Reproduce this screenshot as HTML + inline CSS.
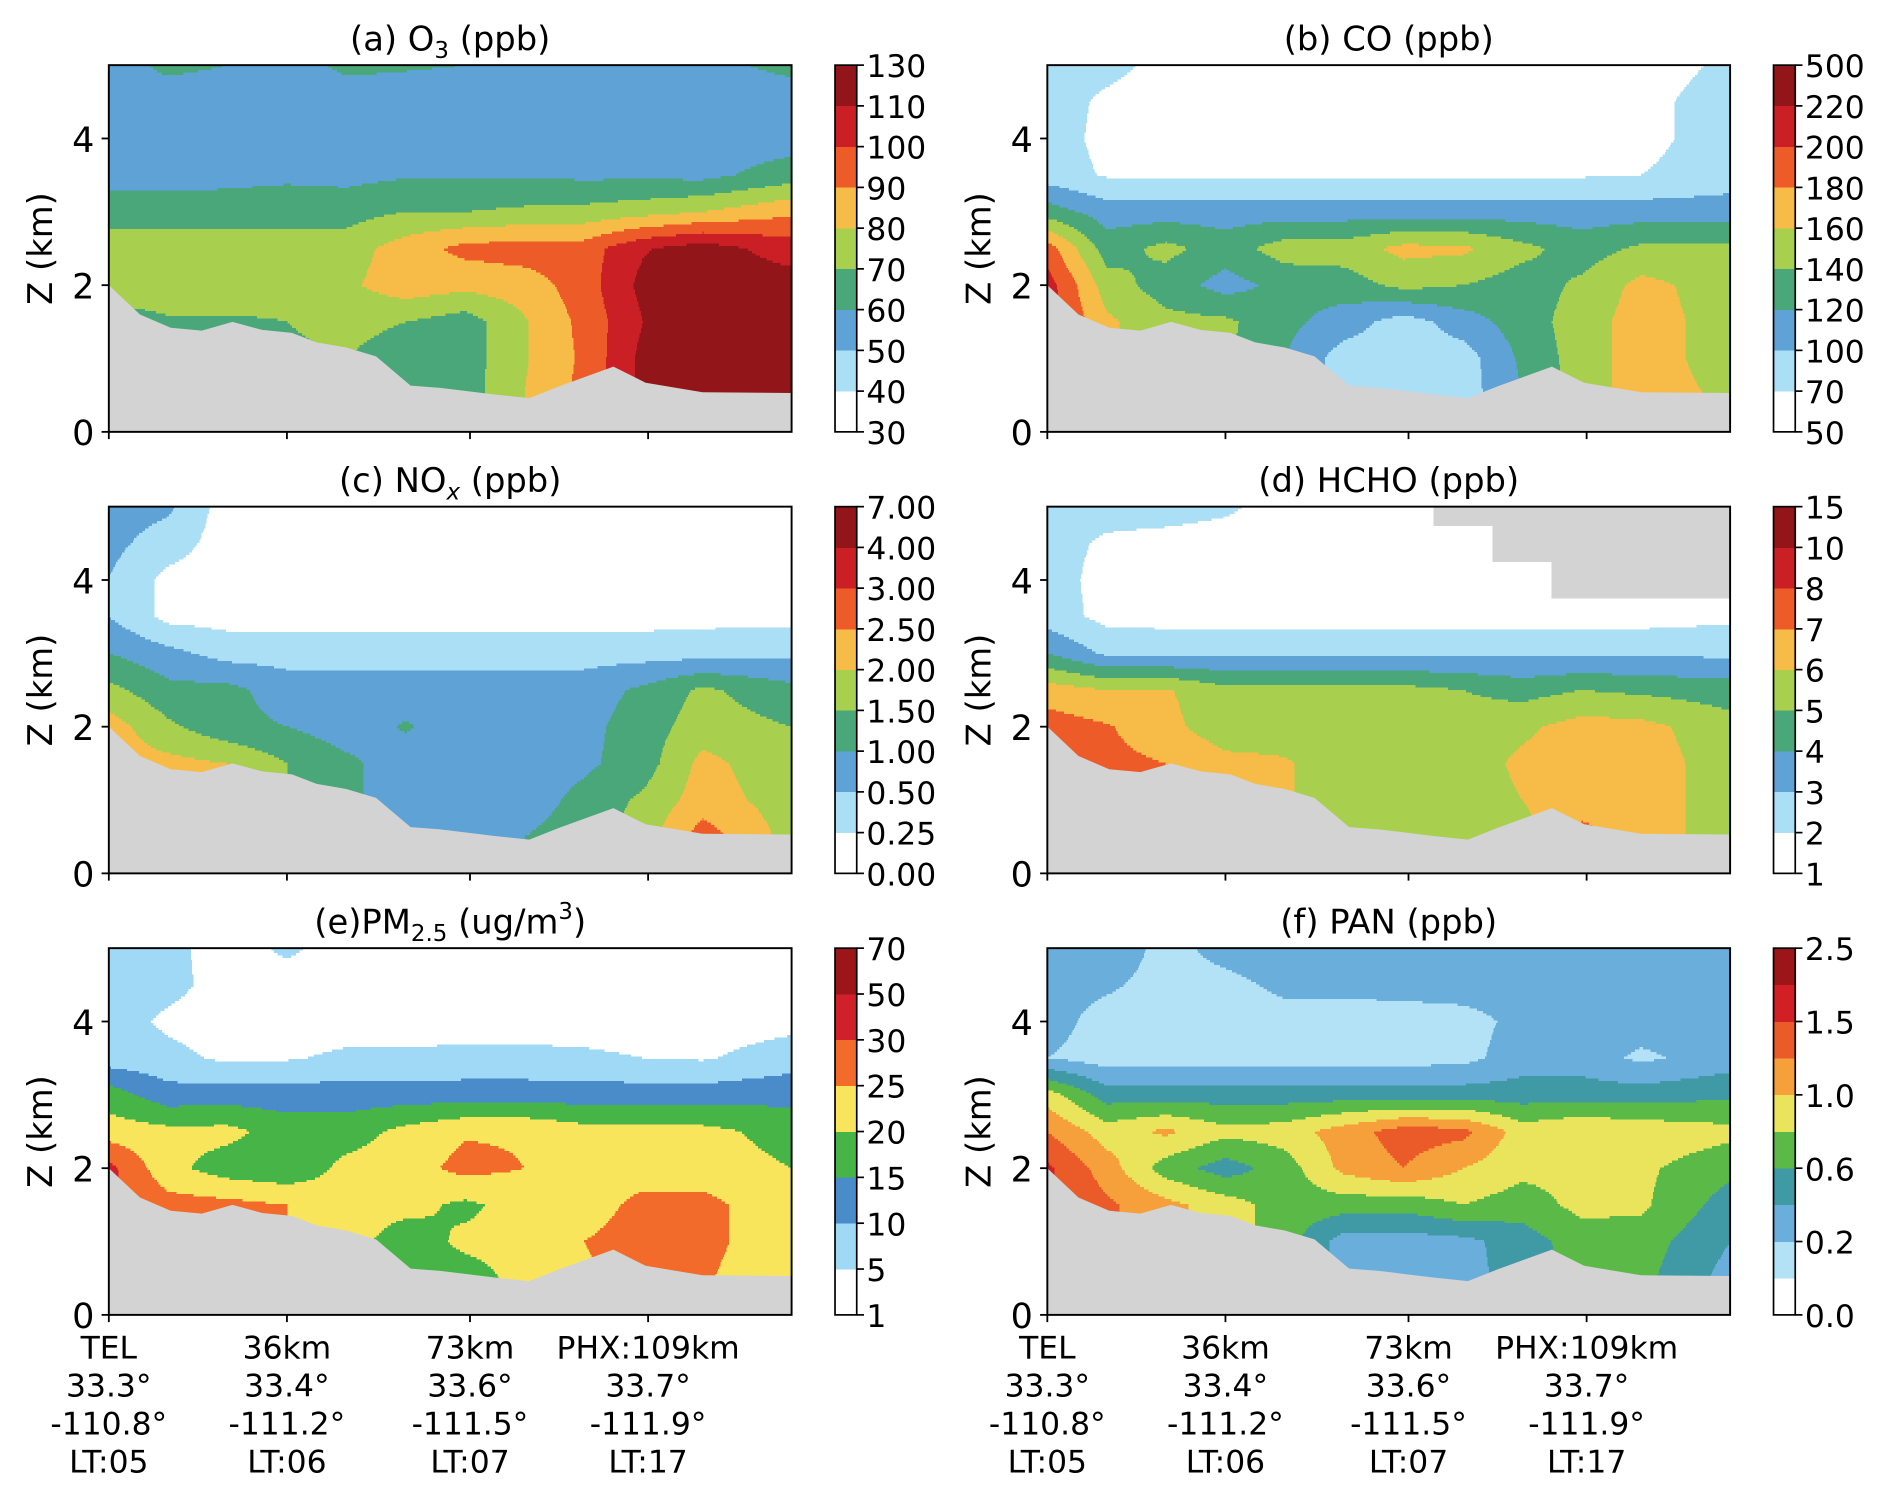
<!DOCTYPE html>
<html><head><meta charset="utf-8"><style>
html,body{margin:0;padding:0;background:#fff;}
svg{display:block;}
text{font-family:"DejaVu Sans","Liberation Sans",sans-serif;fill:#000;}
</style></head><body>
<svg id="fig" width="1892" height="1491" viewBox="0 0 1568 1236" xmlns="http://www.w3.org/2000/svg"></svg>
<script>
// ---- shared axis data ----
const gridKm = [0,12,24,36,48,60,72,84,96,108,120,138];
const gridZ = [5,4.5,4,3.5,3,2.5,2,1.5,1,0.5,0]; // rows listed top-first
const terrainKm = [0,6.3,12.5,18.8,25,31,37,42,48,54,61,67,78,85,91,102,108.5,120,138];
const terrainZ = [2.0,1.6,1.42,1.38,1.5,1.39,1.35,1.22,1.15,1.03,0.63,0.6,0.51,0.46,0.62,0.89,0.67,0.54,0.53];
const xTickKm = [0,36,73,109];
const xTickLines = [["TEL","33.3°","-110.8°","LT:05"],["36km","33.4°","-111.2°","LT:06"],["73km","33.6°","-111.5°","LT:07"],["PHX:109km","33.7°","-111.9°","LT:17"]];
const yTicks = [0,2,4];

// ---- colorbar levels ----
const levelsO3 = ["30","40","50","60","70","80","90","100","110","130"];
const levelsCO = ["50","70","100","120","140","160","180","200","220","500"];
const levelsNOx = ["0.00","0.25","0.50","1.00","1.50","2.00","2.50","3.00","4.00","7.00"];
const levelsHCHO = ["1","2","3","4","5","6","7","8","10","15"];
const levelsPM = ["1","5","10","15","20","25","30","50","70"];
const levelsPAN = ["0.0","","0.2","","0.6","","1.0","","1.5","","2.5"];

const palA = ["#ffffff","#aadff6","#5fa2d5","#49a77a","#a8cf4e","#f7bc48","#ec5b28","#cb1f26","#921519"];
const palPM = ["#ffffff","#9fd9f6","#4a8bc9","#47b448","#f9e55c","#f26b2a","#d1202a","#9b1519"];
const palPAN = ["#ffffff","#b3e2f7","#6aaedc","#3f9aa6","#5bb947","#e9e45b","#f6a03c","#eb5b2a","#d21f26","#9b1519"];

// ---- fields (color-level index, rows z=5 .. z=0) ----
const fieldO3 = [
[2.6,3.2,3.0,2.6,3.2,3.1,3.0,2.8,2.7,2.8,2.8,3.2],
[2.8,2.5,2.5,2.5,2.5,2.5,2.5,2.5,2.5,2.5,2.5,2.6],
[2.7,2.5,2.5,2.5,2.5,2.5,2.5,2.5,2.5,2.5,2.5,2.5],
[2.6,2.6,2.7,2.8,2.7,2.9,2.9,2.9,2.8,2.8,2.7,3.5],
[3.5,3.5,3.5,3.6,3.6,4.0,4.0,4.2,4.3,4.6,5.0,5.8],
[4.5,4.5,4.5,4.5,4.5,5.5,6.3,6.5,6.5,7.9,8.5,7.5],
[4.6,4.5,4.5,4.2,4.8,5.6,5.3,5.5,6.5,8.3,8.5,8.5],
[3.5,3.9,3.9,4.0,4.3,4.0,3.5,4.9,6.3,8.0,8.5,8.5],
[3.5,3.5,3.5,3.8,4.0,3.5,3.5,4.9,6.2,8.3,8.5,8.5],
[3.5,3.5,3.5,4.0,4.0,3.5,3.5,5.0,6.3,8.3,8.5,8.5],
[3.5,3.5,3.5,4.0,4.0,3.5,3.5,5.0,6.3,8.3,8.5,8.5]];
const fieldCO = [
[1.5,1.3,0.7,0.5,0.5,0.5,0.5,0.5,0.5,0.5,0.5,1.2],
[1.5,0.8,0.5,0.5,0.5,0.5,0.5,0.5,0.5,0.5,0.7,1.5],
[1.5,0.7,0.5,0.5,0.5,0.5,0.5,0.5,0.5,0.5,0.7,1.5],
[1.5,0.9,0.8,0.8,0.8,0.8,0.8,0.8,0.9,0.9,1.0,1.5],
[3.5,2.5,2.5,2.5,2.5,2.5,2.5,2.5,2.5,2.5,2.5,2.5],
[6.5,3.5,4.3,3.5,4.5,4.5,5.3,5.2,4.3,3.5,4.2,4.2],
[7.5,4.5,3.5,2.6,3.3,3.5,4.3,4.0,3.5,4.2,5.3,4.5],
[7.5,5.2,4.3,4.2,3.3,2.5,1.5,2.5,3.5,4.5,5.5,4.5],
[7.5,5.2,4.3,4.2,3.0,1.5,1.5,1.5,3.2,4.5,5.5,4.5],
[7.5,5.2,4.3,4.2,3.0,1.5,1.5,1.5,3.0,4.5,5.5,4.8],
[7.5,5.2,4.3,4.2,3.0,1.5,1.5,1.5,3.0,4.5,5.5,4.8]];
const fieldNOx = [
[2.5,2.2,0.5,0.5,0.5,0.5,0.5,0.5,0.5,0.5,0.5,0.5],
[2.3,1.5,0.5,0.5,0.5,0.5,0.5,0.5,0.5,0.5,0.5,0.5],
[2.0,0.7,0.5,0.5,0.5,0.5,0.5,0.5,0.5,0.5,0.5,0.5],
[2.0,0.7,0.6,0.6,0.6,0.6,0.6,0.6,0.6,0.6,0.7,0.7],
[3.0,2.3,1.6,1.6,1.6,1.6,1.6,1.6,1.6,1.6,1.6,1.8],
[4.3,3.3,3.3,2.5,2.5,2.5,2.5,2.5,2.5,3.2,4.2,3.3],
[5.5,4.2,3.3,3.0,2.5,3.1,2.5,2.5,2.7,3.5,4.5,4.0],
[5.5,5.3,5.0,4.0,3.2,2.5,2.5,2.5,2.8,3.5,5.3,4.3],
[5.5,5.3,5.0,4.0,3.2,2.5,2.5,2.5,3.3,4.2,5.5,4.5],
[5.5,5.3,5.0,4.0,3.2,2.5,2.5,3.0,3.5,4.5,6.5,4.6],
[5.5,5.3,5.0,4.0,3.2,2.5,2.5,3.0,3.5,4.5,6.5,4.6]];
const fieldHCHO = [
[1.5,1.5,1.5,1.2,0.5,0.5,0.5,null,null,null,null,null],
[1.5,0.8,0.6,0.5,0.5,0.5,0.5,0.5,null,null,null,null],
[1.5,0.6,0.5,0.5,0.5,0.5,0.5,0.5,0.5,null,null,null],
[1.5,0.7,0.6,0.6,0.6,0.6,0.6,0.6,0.6,0.6,0.6,0.8],
[3.0,1.8,1.8,1.8,1.8,1.8,1.8,1.8,1.8,1.8,1.8,1.8],
[5.5,5.0,5.1,4.3,4.3,4.3,4.3,4.0,3.6,4.0,3.8,3.5],
[6.5,6.1,5.3,4.4,4.5,4.8,4.5,4.5,4.8,5.4,5.3,4.4],
[6.5,6.3,6.0,5.3,5.1,4.5,4.5,4.5,5.2,5.5,5.5,4.5],
[6.5,6.3,6.0,5.3,5.1,4.5,4.5,4.5,5.0,5.6,5.5,4.5],
[6.5,6.3,6.0,5.3,5.1,4.5,4.5,4.5,4.6,6.3,5.6,4.4],
[6.5,6.3,6.0,5.3,5.1,4.5,4.5,4.5,4.6,6.3,5.6,4.4]];
const fieldPM = [
[1.5,1.3,0.5,1.2,0.5,0.5,0.5,0.5,0.5,0.5,0.5,0.5],
[1.5,1.3,0.6,0.5,0.5,0.5,0.5,0.5,0.5,0.5,0.5,0.6],
[1.5,0.8,0.5,0.5,0.5,0.5,0.5,0.5,0.5,0.5,0.5,0.7],
[1.5,1.3,0.8,0.9,1.2,1.2,1.3,1.3,1.2,1.0,0.9,1.5],
[3.5,2.4,2.5,2.5,2.5,2.5,2.5,2.5,2.5,2.5,2.5,2.7],
[4.5,4.3,4.3,3.5,3.5,4.3,4.9,4.9,4.4,4.3,4.3,3.6],
[6.3,4.3,3.5,3.2,4.3,4.6,5.3,5.0,4.4,4.5,4.5,4.0],
[6.3,5.4,5.3,5.0,4.4,4.3,3.8,4.4,4.5,5.3,5.3,4.3],
[6.3,5.4,5.3,5.0,4.4,3.5,4.2,4.3,5.0,5.5,5.3,4.3],
[6.3,5.4,5.3,5.0,4.4,3.5,3.6,4.3,4.8,5.5,5.1,4.3],
[6.3,5.4,5.3,5.0,4.4,3.5,3.6,4.3,4.8,5.5,5.1,4.3]];
const fieldPAN = [
[2.5,3.0,1.5,2.5,3.0,2.5,2.5,2.5,2.5,2.5,2.5,2.5],
[2.5,2.2,1.5,1.6,2.3,2.3,2.4,2.5,2.5,2.5,2.5,2.5],
[2.5,1.5,1.5,1.5,1.5,1.5,1.5,1.6,2.3,2.5,2.5,2.5],
[2.0,1.5,1.5,1.5,1.5,1.5,1.6,1.7,2.5,2.5,1.8,2.5],
[5.5,3.5,3.5,3.5,3.5,3.5,3.5,3.5,3.5,3.5,3.5,3.8],
[7.0,5.5,6.2,5.3,5.5,6.5,7.5,7.3,5.5,6.0,5.7,5.3],
[8.2,6.5,4.5,3.5,4.5,6.3,7.0,6.0,5.3,5.3,5.2,4.3],
[8.2,7.2,6.3,5.5,4.5,4.5,4.4,5.0,4.5,5.3,5.2,3.5],
[8.2,7.2,6.3,5.5,4.5,2.5,2.5,2.7,3.5,4.5,4.5,3.0],
[8.2,7.2,6.3,5.5,4.5,2.5,2.5,2.6,3.5,4.4,4.3,2.6],
[8.2,7.2,6.3,5.5,4.5,2.5,2.5,2.6,3.5,4.4,4.3,2.6]];

const NS = "http://www.w3.org/2000/svg";
const svg = document.getElementById('fig');
function mk(tag, attrs, parent){ const e=document.createElementNS(NS,tag); for(const k in attrs) e.setAttribute(k,attrs[k]); (parent||svg).appendChild(e); return e; }

const PW=566, PH=304, XMAX=138, ZMAX=5;
const panels = [
 {key:'a', name:'o3', left:90, top:54, cbx:692, field:fieldO3, pal:palA, levels:levelsO3, title:[['(a) O',0],['3',1],[' (ppb)',0]], xlab:false},
 {key:'b', name:'co', left:868, top:54, cbx:1470, field:fieldCO, pal:palA, levels:levelsCO, title:[['(b) CO (ppb)',0]], xlab:false},
 {key:'c', name:'nox', left:90, top:420, cbx:692, field:fieldNOx, pal:palA, levels:levelsNOx, title:[['(c) NO',0],['x',2],[' (ppb)',0]], xlab:false},
 {key:'d', name:'hcho', left:868, top:420, cbx:1470, field:fieldHCHO, pal:palA, levels:levelsHCHO, title:[['(d) HCHO (ppb)',0]], xlab:false},
 {key:'e', name:'pm25', left:90, top:786, cbx:692, field:fieldPM, pal:palPM, levels:levelsPM, title:[['(e)PM',0],['2.5',1],[' (ug/m',0],['3',3],[')',0]], xlab:true},
 {key:'f', name:'pan', left:868, top:786, cbx:1470, field:fieldPAN, pal:palPAN, levels:levelsPAN, title:[['(f) PAN (ppb)',0]], xlab:true}
];

function interp(field, km, z){
  const nr=gridZ.length;
  let ri = (ZMAX - z)/0.5; ri=Math.max(0,Math.min(nr-1,ri));
  let ci=0; while(ci<gridKm.length-2 && km>gridKm[ci+1]) ci++;
  let t=(km-gridKm[ci])/(gridKm[ci+1]-gridKm[ci]); t=Math.max(0,Math.min(1,t));
  const r0=Math.floor(ri), r1=Math.min(nr-1,r0+1), s=ri-r0;
  const near = field[Math.round(ri)][t<0.5?ci:ci+1];
  if(near===null) return null;
  const g=(r,c)=>{const v=field[r][c]; return v===null? near : v;};
  const a=g(r0,ci)*(1-t)+g(r0,ci+1)*t;
  const b=g(r1,ci)*(1-t)+g(r1,ci+1)*t;
  return a*(1-s)+b*s;
}

panels.forEach(p=>{
  const xS = km => p.left + km/XMAX*PW;
  const yS = z => p.top + PH - z/ZMAX*PH;
  const g = mk('g',{});
  
  
  const cg = mk('g',{'shape-rendering':'crispEdges'}, g);
  
  
  const n = p.pal.length;
  const STEP=2;
  for(let py=0; py<PH; py+=STEP){
    const z = ZMAX - (py+STEP/2)/PH*ZMAX;
    let runStart=0, runCol=null;
    for(let px=0; px<=PW; px++){
      let col=null;
      if(px<PW){
        const km=(px+0.5)/PW*XMAX;
        const v=interp(p.field, km, z);
        if(v===null) col='#d3d3d3';
        else { let b=Math.floor(v); b=Math.max(0,Math.min(n-1,b)); col=p.pal[b]; }
      }
      if(col!==runCol){
        if(runCol!==null){
          const r=mk('rect',{x:p.left+runStart, y:p.top+py, width:px-runStart+0.4, height:STEP+0.4, fill:runCol}, cg);
          
          
        }
        runStart=px; runCol=col;
      }
    }
  }
  let pts = terrainKm.map((k,i)=>xS(k).toFixed(1)+','+yS(terrainZ[i]).toFixed(1)).join(' ');
  pts += ' '+xS(XMAX)+','+yS(0)+' '+xS(0)+','+yS(0);
  const terr = mk('polygon',{points:pts, fill:'#d3d3d3'}, g);
  
  
  const fr = mk('rect',{x:p.left,y:p.top,width:PW,height:PH,fill:'none',stroke:'#000','stroke-width':1.6}, g);
  
  
  yTicks.forEach(v=>{
    mk('line',{x1:p.left-6,x2:p.left,y1:yS(v),y2:yS(v),stroke:'#000','stroke-width':1.5}, g);
    const t = mk('text',{x:p.left-12,y:yS(v)+11,'font-size':29,'text-anchor':'end'}, g);
    t.textContent=String(v);
    
    
  });
  const yl = mk('text',{x:0,y:0,'font-size':28,'text-anchor':'middle',transform:`translate(${p.left-47},${p.top+PH/2}) rotate(-90)`}, g);
  yl.textContent='Z (km)';
  
  
  xTickKm.forEach((k,i)=>{
    mk('line',{x1:xS(k),x2:xS(k),y1:yS(0),y2:yS(0)+6,stroke:'#000','stroke-width':1.5}, g);
    if(p.xlab){
      xTickLines[i].forEach((s,j)=>{
        const t=mk('text',{x:xS(k),y:yS(0)+36+j*31.5,'font-size':26,'text-anchor':'middle'}, g);
        t.textContent=s;
        
        
      });
    }
  });
  const tt = mk('text',{x:p.left+PW/2,y:p.top-12,'font-size':28,'text-anchor':'middle'}, g);
  
  
  p.title.forEach(([s,kind])=>{
    const ts=document.createElementNS(NS,'tspan');
    ts.textContent=s;
    if(kind===1){ ts.setAttribute('font-size','19'); ts.setAttribute('dy','6'); }
    if(kind===2){ ts.setAttribute('font-size','19'); ts.setAttribute('dy','6'); ts.setAttribute('font-style','italic'); }
    if(kind===3){ ts.setAttribute('font-size','19'); ts.setAttribute('dy','-12'); }
    if(kind===0 && tt.childNodes.length>0){ const prev=tt.lastChild.getAttribute('dy'); if(prev) ts.setAttribute('dy', String(-parseFloat(prev))); }
    tt.appendChild(ts);
  });
  const cb = mk('g',{}, g);
  
  
  const bh = PH/n;
  p.pal.forEach((c,i)=>{
    const r=mk('rect',{x:p.cbx,y:p.top+PH-(i+1)*bh,width:18,height:bh+0.3,fill:c,'shape-rendering':'crispEdges'}, cb);
    
    
  });
  mk('rect',{x:p.cbx,y:p.top,width:18,height:PH,fill:'none',stroke:'#000','stroke-width':1.4}, cb);
  const lstep = PH/(p.levels.length-1);
  p.levels.forEach((s,i)=>{
    if(s==='') return;
    const y=p.top+PH-i*lstep;
    mk('line',{x1:p.cbx+18,x2:p.cbx+24,y1:y,y2:y,stroke:'#000','stroke-width':1.4}, cb);
    const t=mk('text',{x:p.cbx+26,y:y+10,'font-size':26}, cb);
    t.textContent=s;
    
    
  });
});
</script>
</body></html>
